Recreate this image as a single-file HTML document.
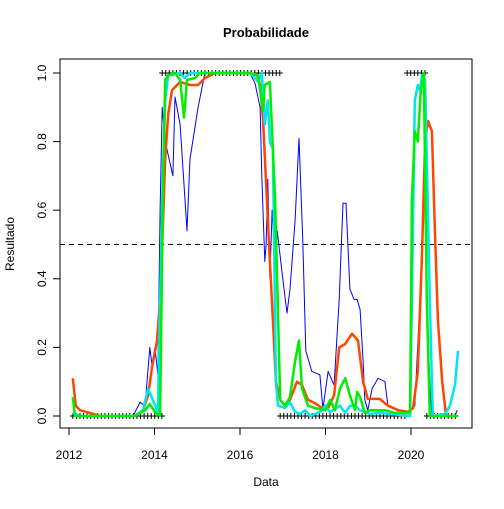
<!DOCTYPE html>
<html><head><meta charset="utf-8"><style>
body{margin:0;background:#fff}
svg text{font-family:"Liberation Sans",sans-serif}
</style></head><body>
<svg id="c" width="504" height="504" viewBox="0 0 504 504">
<rect width="504" height="504" fill="#fff"/>
<text x="266" y="37" text-anchor="middle" font-size="13" font-weight="bold">Probabilidade</text>
<text x="266" y="486" text-anchor="middle" font-size="12">Data</text>
<text transform="translate(14,244) rotate(-90)" text-anchor="middle" font-size="12">Resultado</text>
<g id="axes"></g>
<g id="rug"></g>
<g id="series"></g>
<rect x="60" y="59" width="412" height="369" fill="none" stroke="#000"/>
</svg>
<script>
const xTicks=[2012,2014,2016,2018,2020];
const yTicks=[0,0.2,0.4,0.6,0.8,1.0];
const yTickLabels=["0.0","0.2","0.4","0.6","0.8","1.0"];
const threshold=0.5;
const rugOnes=[[2014.18,2016.94],[2019.91,2020.37]];
const rugZeros=[[2012.09,2014.20],[2016.94,2019.93],[2020.37,2021.08]];
const blueX=[2012.09,2013.50,2013.66,2013.78,2013.89,2013.94,2014.01,2014.08,2014.13,2014.18,2014.25,2014.43,2014.48,2014.60,2014.76,2014.83,2015.02,2015.18,2016.23,2016.35,2016.47,2016.51,2016.58,2016.61,2016.65,2016.70,2016.75,2016.82,2016.87,2017.01,2017.10,2017.17,2017.29,2017.38,2017.47,2017.54,2017.68,2017.87,2017.94,2018.06,2018.20,2018.32,2018.41,2018.48,2018.57,2018.67,2018.74,2018.81,2018.88,2018.92,2018.99,2019.09,2019.23,2019.39,2019.46,2019.74,2019.91,2019.98,2020.09,2020.21,2020.28,2020.33,2020.37,2020.44,2020.49,2021.03,2021.08];
const blueY=[0,0,0.04,0.03,0.20,0.15,0.20,0.12,0.60,0.90,0.80,0.70,0.93,0.85,0.54,0.75,0.90,1.0,1.0,0.97,0.90,0.70,0.45,0.50,0.69,0.40,0.60,0.45,0.54,0.39,0.30,0.37,0.57,0.81,0.51,0.19,0.13,0.12,0.02,0.13,0.09,0.34,0.62,0.62,0.37,0.34,0.34,0.31,0.16,0.047,0.017,0.08,0.11,0.10,0.03,0.017,0.009,0.012,0.03,0.34,0.55,0.69,0.34,0.10,0,0,0.017];
const orangeX=[2012.09,2012.16,2012.26,2012.49,2012.73,2013.54,2013.73,2013.85,2013.94,2014.06,2014.13,2014.20,2014.25,2014.32,2014.41,2014.60,2014.83,2015.02,2015.18,2015.42,2016.23,2016.40,2016.47,2016.54,2016.63,2016.70,2016.77,2016.84,2016.94,2017.05,2017.17,2017.33,2017.45,2017.59,2017.75,2017.92,2018.06,2018.20,2018.32,2018.46,2018.62,2018.76,2018.88,2018.99,2019.27,2019.46,2019.70,2019.93,2020.05,2020.16,2020.26,2020.33,2020.40,2020.49,2020.56,2020.63,2020.73,2020.82,2021.08];
const orangeY=[0.11,0.03,0.017,0.009,0,0,0.017,0.06,0.14,0.22,0.34,0.57,0.75,0.88,0.95,0.974,0.965,0.965,0.985,1.0,1.0,0.994,0.965,0.86,0.63,0.45,0.28,0.10,0.047,0.03,0.047,0.10,0.09,0.047,0.038,0.023,0.023,0.06,0.20,0.21,0.24,0.22,0.10,0.05,0.05,0.03,0.017,0.012,0.023,0.13,0.48,0.80,0.86,0.83,0.54,0.28,0.10,0,0];
const cyanX=[2012.09,2012.26,2013.54,2013.73,2013.85,2013.96,2014.08,2014.18,2014.25,2014.32,2014.60,2014.71,2014.83,2016.23,2016.35,2016.42,2016.51,2016.58,2016.65,2016.70,2016.77,2016.84,2016.89,2017.05,2017.17,2017.29,2017.40,2017.52,2017.64,2017.87,2017.99,2018.11,2018.34,2018.46,2018.57,2018.69,2018.81,2019.04,2019.27,2019.98,2020.02,2020.09,2020.16,2020.21,2020.26,2020.33,2020.44,2020.51,2020.80,2020.91,2021.03,2021.10];
const cyanY=[0.009,0,0,0.017,0.08,0.047,0.012,0.63,0.92,0.994,1.0,0.985,1.0,1.0,0.985,0.974,1.0,0.85,0.92,0.80,0.78,0.10,0.03,0.023,0.04,0.012,0.006,0.017,0,0.012,0.03,0.012,0.03,0.009,0.03,0.03,0.017,0.006,0.009,0,0.34,0.92,0.965,0.95,0.994,0.98,0.34,0,0.006,0.03,0.09,0.19];
const greenX=[2012.09,2012.14,2013.54,2013.78,2013.89,2014.01,2014.13,2014.20,2014.25,2014.32,2014.48,2014.60,2014.69,2014.76,2014.95,2015.06,2016.23,2016.42,2016.54,2016.58,2016.70,2016.82,2016.94,2017.05,2017.17,2017.29,2017.38,2017.45,2017.59,2017.75,2017.99,2018.11,2018.22,2018.34,2018.46,2018.57,2018.69,2018.74,2018.81,2018.92,2019.04,2019.39,2019.63,2019.98,2020.02,2020.09,2020.16,2020.23,2020.30,2020.37,2020.44,2021.10];
const greenY=[0.055,0,0,0.017,0.035,0.012,0,0.69,0.98,0.994,1.0,0.98,0.87,0.98,0.985,1.0,1.0,0.994,0.89,0.965,0.974,0.63,0.047,0.03,0.055,0.16,0.22,0.08,0.03,0.023,0.017,0.047,0.017,0.08,0.11,0.06,0.017,0.07,0.055,0.009,0.017,0.017,0.009,0.009,0.63,0.83,0.80,0.95,1.0,0.34,0,0];
const x=v=>69+(v-2012)*42.75, y=v=>416-v*343;
const NS="http://www.w3.org/2000/svg";
function mk(tag,attrs,parent){const e=document.createElementNS(NS,tag);for(const k in attrs)e.setAttribute(k,attrs[k]);parent.appendChild(e);return e;}
const axes=document.getElementById('axes');
const xl=mk('line',{x1:x(xTicks[0]),x2:x(xTicks[xTicks.length-1]),y1:428,y2:428,stroke:'#000'},axes);


xTicks.forEach(t=>{
 const l=mk('line',{x1:x(t),x2:x(t),y1:428,y2:435,stroke:'#000'},axes);
 
 
 const tx=mk('text',{x:x(t),y:459,'text-anchor':'middle','font-size':'12'},axes);tx.textContent=t;
 
 
});
const yl=mk('line',{x1:60,x2:60,y1:y(yTicks[0]),y2:y(yTicks[yTicks.length-1]),stroke:'#000'},axes);


yTicks.forEach((t,i)=>{
 const l=mk('line',{x1:53,x2:60,y1:y(t),y2:y(t),stroke:'#000'},axes);
 
 
 const tx=mk('text',{transform:`translate(46,${y(t)}) rotate(-90)`,'text-anchor':'middle','font-size':'12'},axes);tx.textContent=yTickLabels[i];
 
 
});
const th=mk('line',{x1:60,x2:472,y1:y(threshold),y2:y(threshold),stroke:'#000','stroke-dasharray':'5,4'},axes);


const rug=document.getElementById('rug');
function rugMarks(ranges,val){ranges.forEach(r=>{for(let t=r[0];t<=r[1]+1e-6;t+=1/12){
 const p=mk('path',{d:`M${x(t)-3},${y(val)}h6M${x(t)},${y(val)-3}v6`,stroke:'#000','stroke-width':1},rug);
 
 
}});}
rugMarks(rugOnes,1);rugMarks(rugZeros,0);
const ser=document.getElementById('series');
function line(xs,ys,col,w,name){
 const d=xs.map((v,i)=>(i?'L':'M')+x(v).toFixed(1)+','+y(ys[i]).toFixed(1)).join('');
 const p=mk('path',{d:d,fill:'none',stroke:col,'stroke-width':w,'stroke-linejoin':'round'},ser);
 
 
}
line(blueX,blueY,'#0000ff',1,'series-blue');
line(orangeX,orangeY,'#ff4500',2.5,'series-orange');
line(cyanX,cyanY,'#00e5ee',2.5,'series-cyan');
line(greenX,greenY,'#00ee00',2.5,'series-green');
</script>
</body></html>
